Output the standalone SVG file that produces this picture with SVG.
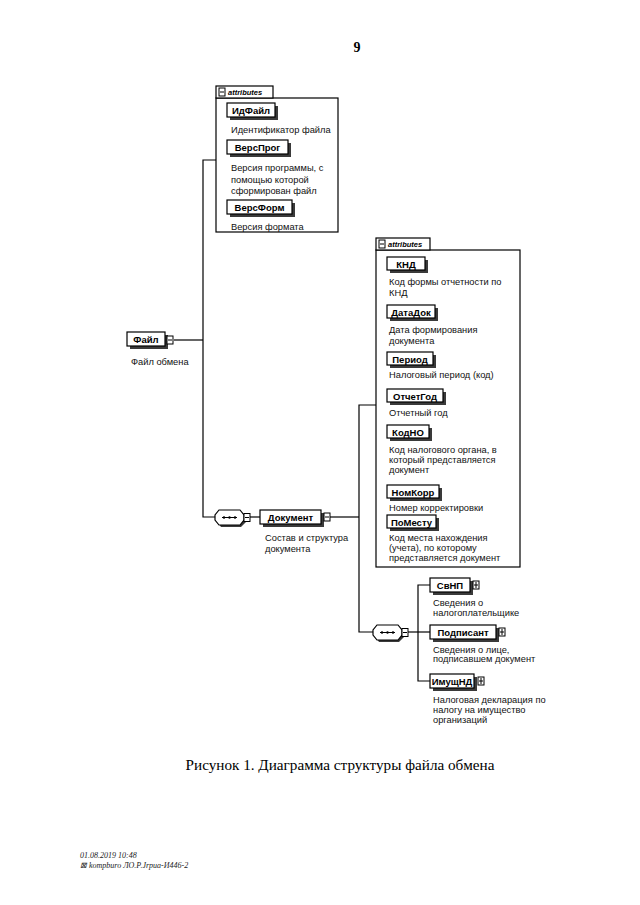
<svg xmlns="http://www.w3.org/2000/svg" width="640" height="905" viewBox="0 0 640 905">
<defs>
<style>
.bx{fill:#fff;stroke:#000;stroke-width:1.2}
.sh{fill:#3a3a3a}
.ln{fill:none;stroke:#000;stroke-width:1.2}
.lbl{font-family:"Liberation Sans",Arial,sans-serif;font-weight:bold;font-size:9.5px;fill:#000;text-anchor:middle}
.desc{font-family:"Liberation Sans",Arial,sans-serif;font-size:9.3px;fill:#111}
.att{font-family:"Liberation Sans",Arial,sans-serif;font-weight:bold;font-style:italic;font-size:7.5px;fill:#000}
.ico{fill:#fff;stroke:#000;stroke-width:1}
.cap{font-family:"Liberation Serif","Times New Roman",serif;font-size:15.2px;fill:#000}
.foot{font-family:"Liberation Serif","Times New Roman",serif;font-style:italic;font-size:8px;fill:#222}
</style>
<g id="minus-icon"><rect class="ico" x="0" y="0" width="6" height="8"/><line x1="1" y1="4" x2="5" y2="4" stroke="#000" stroke-width="1"/></g>
<g id="plus-icon"><rect class="ico" x="0" y="0" width="6" height="8"/><line x1="1" y1="4" x2="5" y2="4" stroke="#000" stroke-width="1"/><line x1="3" y1="1" x2="3" y2="7" stroke="#000" stroke-width="1"/></g>
<g id="seq">
<path d="M6,2 H26 L32,8 V11 L26,17 H6 L2,11 V8 Z" fill="#3a3a3a"/>
<path d="M4,0 H25 L29,5 V10 L25,15 H4 L0,10 V5 Z" class="bx"/>
<line x1="7" y1="7.5" x2="22" y2="7.5" stroke="#000" stroke-width="1"/>
<circle cx="9" cy="7.5" r="1.2"/><circle cx="14.5" cy="7.5" r="1.2"/><circle cx="20" cy="7.5" r="1.2"/>
<rect class="ico" x="29" y="3.5" width="6" height="8"/><line x1="30" y1="7.5" x2="34" y2="7.5" stroke="#000" stroke-width="1"/>
</g>
</defs>
<rect width="640" height="905" fill="#fff"/>
<text x="357" y="52" font-family="Liberation Serif,serif" font-size="14" font-weight="bold" text-anchor="middle">9</text>

<g id="connectors">
<polyline class="ln" points="216,160 203,160 203,517 215,517"/>
<line class="ln" x1="174" y1="340" x2="203" y2="340"/>
<line class="ln" x1="250" y1="517" x2="260" y2="517"/>
<line class="ln" x1="330" y1="517" x2="359" y2="517"/>
<polyline class="ln" points="376,405 359,405 359,632 373,632"/>
<line class="ln" x1="408" y1="632" x2="418" y2="632"/>
<polyline class="ln" points="430,585 418,585 418,681 430,681"/>
<line class="ln" x1="418" y1="632" x2="430" y2="632"/>
</g>

<g id="attributes1">
<rect class="bx" x="216" y="98" width="122" height="134"/>
<rect class="bx" x="216" y="86" width="57" height="12"/>
<use href="#minus-icon" x="219" y="88"/>
<text class="att" x="228" y="95">attributes</text>
</g>
<g id="node-IdFile">
<rect class="sh" x="230" y="106" width="48" height="14"/>
<rect class="bx" x="227" y="103" width="48" height="14"/>
<text class="lbl" x="251" y="114">ИдФайл</text>
<text class="desc" x="231" y="133">Идентификатор файла</text>
</g>
<g id="node-VersProg">
<rect class="sh" x="230" y="143" width="61" height="14"/>
<rect class="bx" x="227" y="140" width="61" height="14"/>
<text class="lbl" x="257.5" y="151">ВерсПрог</text>
<text class="desc" x="231" y="171">Версия программы, с</text>
<text class="desc" x="231" y="183">помощью которой</text>
<text class="desc" x="231" y="194">сформирован файл</text>
</g>
<g id="node-VersForm">
<rect class="sh" x="230" y="203" width="65" height="14"/>
<rect class="bx" x="227" y="200" width="65" height="14"/>
<text class="lbl" x="259.5" y="211">ВерсФорм</text>
<text class="desc" x="231" y="230">Версия формата</text>
</g>

<g id="node-File">
<rect class="sh" x="130" y="335" width="38" height="14"/>
<rect class="bx" x="127" y="332" width="38" height="14"/>
<text class="lbl" x="146" y="343">Файл</text>
<use href="#minus-icon" x="167" y="336"/>
<text class="desc" x="131" y="365">Файл обмена</text>
</g>

<g id="seq1"><use href="#seq" x="215" y="510"/></g>

<g id="node-Document">
<rect class="sh" x="263" y="513" width="61" height="14"/>
<rect class="bx" x="260" y="510" width="61" height="14"/>
<text class="lbl" x="290.5" y="521">Документ</text>
<use href="#minus-icon" x="324" y="513"/>
<text class="desc" x="265" y="541">Состав и структура</text>
<text class="desc" x="265" y="552">документа</text>
</g>

<g id="attributes2">
<rect class="bx" x="376" y="250" width="144" height="317"/>
<rect class="bx" x="376" y="238" width="54" height="12"/>
<use href="#minus-icon" x="379" y="240"/>
<text class="att" x="388" y="247">attributes</text>
</g>
<g id="node-KND">
<rect class="sh" x="390" y="260" width="38" height="13"/>
<rect class="bx" x="387" y="257" width="38" height="13"/>
<text class="lbl" x="406" y="267.5">КНД</text>
<text class="desc" x="389" y="285">Код формы отчетности по</text>
<text class="desc" x="389" y="296">КНД</text>
</g>
<g id="node-DataDok">
<rect class="sh" x="390" y="308" width="48" height="13"/>
<rect class="bx" x="387" y="305" width="48" height="13"/>
<text class="lbl" x="411" y="315.5">ДатаДок</text>
<text class="desc" x="389" y="333">Дата формирования</text>
<text class="desc" x="389" y="344">документа</text>
</g>
<g id="node-Period">
<rect class="sh" x="390" y="355" width="46" height="13"/>
<rect class="bx" x="387" y="352" width="46" height="13"/>
<text class="lbl" x="410" y="362.5">Период</text>
<text class="desc" x="389" y="378">Налоговый период (код)</text>
</g>
<g id="node-OtchetGod">
<rect class="sh" x="390" y="392" width="56" height="13"/>
<rect class="bx" x="387" y="389" width="56" height="13"/>
<text class="lbl" x="415" y="399.5">ОтчетГод</text>
<text class="desc" x="389" y="416">Отчетный год</text>
</g>
<g id="node-KodNO">
<rect class="sh" x="390" y="428" width="42" height="13"/>
<rect class="bx" x="387" y="425" width="42" height="13"/>
<text class="lbl" x="408" y="435.5">КодНО</text>
<text class="desc" x="389" y="453">Код налогового органа, в</text>
<text class="desc" x="389" y="463">который представляется</text>
<text class="desc" x="389" y="473">документ</text>
</g>
<g id="node-NomKorr">
<rect class="sh" x="390" y="488" width="52" height="13"/>
<rect class="bx" x="387" y="485" width="52" height="13"/>
<text class="lbl" x="413" y="495.5">НомКорр</text>
<text class="desc" x="389" y="511">Номер корректировки</text>
</g>
<g id="node-PoMestu">
<rect class="sh" x="390" y="518" width="49" height="13"/>
<rect class="bx" x="387" y="515" width="49" height="13"/>
<text class="lbl" x="411.5" y="525.5">ПоМесту</text>
<text class="desc" x="389" y="541">Код места нахождения</text>
<text class="desc" x="389" y="551">(учета), по которому</text>
<text class="desc" x="389" y="561">представляется документ</text>
</g>

<g id="seq2"><use href="#seq" x="373" y="625"/></g>

<g id="node-SvNP">
<rect class="sh" x="433" y="581" width="40" height="14"/>
<rect class="bx" x="430" y="578" width="40" height="14"/>
<text class="lbl" x="450" y="589">СвНП</text>
<use href="#plus-icon" x="473" y="581"/>
<text class="desc" x="433" y="606">Сведения о</text>
<text class="desc" x="433" y="616">налогоплательщике</text>
</g>
<g id="node-Podpisant">
<rect class="sh" x="433" y="628" width="66" height="14"/>
<rect class="bx" x="430" y="625" width="66" height="14"/>
<text class="lbl" x="463" y="636">Подписант</text>
<use href="#plus-icon" x="499" y="628"/>
<text class="desc" x="433" y="653">Сведения о лице,</text>
<text class="desc" x="433" y="662">подписавшем документ</text>
</g>
<g id="node-ImuschND">
<rect class="sh" x="433" y="677" width="44" height="14"/>
<rect class="bx" x="430" y="674" width="44" height="14"/>
<text class="lbl" x="452" y="685">ИмущНД</text>
<use href="#plus-icon" x="478" y="677"/>
<text class="desc" x="433" y="703">Налоговая декларация по</text>
<text class="desc" x="433" y="713">налогу на имущество</text>
<text class="desc" x="433" y="723">организаций</text>
</g>

<text class="cap" x="340" y="770" text-anchor="middle">Рисунок 1. Диаграмма структуры файла обмена</text>
<text class="foot" x="80" y="858">01.08.2019 10:48</text>
<text class="foot" x="80" y="868">⊠ kompburo ЛО.Р.Jrpua-И446-2</text>
</svg>
